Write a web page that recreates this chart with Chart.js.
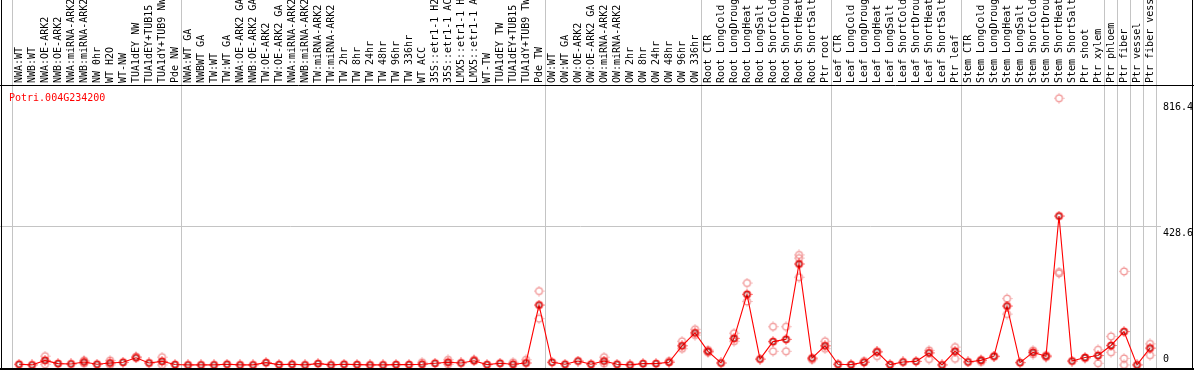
<!DOCTYPE html>
<html><head><meta charset="utf-8">
<script src="https://cdn.jsdelivr.net/npm/chart.js@4.4.1/dist/chart.umd.min.js"></script>
<style>html,body{margin:0;padding:0;background:#fff;overflow:hidden}canvas{display:block}</style>
</head><body>
<canvas id="c" width="1194" height="370" style="width:1194px;height:370px"></canvas>
<script>
const geneTitle = "Potri.004G234200";

const categories = [
  "NWA:WT","NWB:WT","NWA:OE-ARK2","NWB:OE-ARK2","NWA:miRNA-ARK2","NWB:miRNA-ARK2","NW 0hr","WT H2O","WT-NW","TUA1dEY NW","TUA1dEY+TUB15","TUA1dY+TUB9 NW","Pde NW",
  "NWA:WT GA","NWBWT GA","TW:WT","TW:WT GA","NWA:OE-ARK2 GA","NWB:OE-ARK2 GA","TW:OE-ARK2","TW:OE-ARK2 GA","NWA:miRNA-ARK2","NWB:miRNA-ARK2","TW:miRNA-ARK2","TW:miRNA-ARK2",
  "TW 2hr","TW 8hr","TW 24hr","TW 48hr","TW 96hr","TW 336hr","WT ACC","35S::etr1-1 H2O","35S::etr1-1 ACC","LMX5::etr1-1 H2O","LMX5::etr1-1 ACC","WT-TW","TUA1dEY TW","TUA1dEY+TUB15","TUA1dY+TUB9 TW","Pde TW",
  "OW:WT","OW:WT GA","OW:OE-ARK2","OW:OE-ARK2 GA","OW:miRNA-ARK2","OW:miRNA-ARK2","OW 2hr","OW 8hr","OW 24hr","OW 48hr","OW 96hr","OW 336hr",
  "Root CTR","Root LongCold","Root LongDrought","Root LongHeat","Root LongSalt","Root ShortCold","Root ShortDrought","Root ShortHeat","Root ShortSalt","Ptr root",
  "Leaf CTR","Leaf LongCold","Leaf LongDrought","Leaf LongHeat","Leaf LongSalt","Leaf ShortCold","Leaf ShortDrought","Leaf ShortHeat","Leaf ShortSalt","Ptr leaf",
  "Stem CTR","Stem LongCold","Stem LongDrought","Stem LongHeat","Stem LongSalt","Stem ShortCold","Stem ShortDrought","Stem ShortHeat","Stem ShortSalt","Ptr shoot","Ptr xylem",
  "Ptr phloem","Ptr fiber","Ptr vessel","Ptr fiber vessel"
];

// group boundaries (index of first category of each group, plus end)
const groupBoundaries = [0, 13, 41, 53, 63, 73, 84, 85, 86, 87, 88];

const meanValues = [
  2,0,14,4,3,9,2,6,8,22,6,11,1,
  0,0,0,2,0,0,7,1,2,0,4,0,
  2,1,0,0,1,1,2,5,8,6,13,1,5,2,6,185,
  8,2,12,2,12,2,0,4,4,8,59,99,
  42,6,82,218,18,72,79,312,21,59,
  2,1,8,40,1,9,11,37,0,42,
  9,14,27,182,7,39,27,460,12,23,29,
  60,103,0,52
];

const replicateA = [
  null,null,27,null,null,14,null,14,null,26,null,24,null,
  null,null,null,null,null,null,null,null,null,null,null,null,
  null,null,null,null,null,null,8,null,16,null,16,null,null,8,16,228,
  null,null,null,null,24,null,null,null,null,12,73,110,
  46,null,98,253,null,118,118,340,16,73,
  null,null,12,42,null,null,null,45,null,55,
  null,16,25,205,null,45,30,824,null,20,47,
  88,289,null,65
];

const replicateB = [
  null,null,2,null,null,4,null,0,null,null,null,0,null,
  null,null,null,null,null,null,null,null,null,null,null,null,
  null,null,null,null,null,null,null,null,2,null,null,null,null,null,null,143,
  null,null,null,null,4,null,null,null,null,null,50,92,
  38,null,73,196,null,42,42,271,null,50,
  null,null,null,27,null,null,null,18,null,19,
  null,9,null,157,null,33,24,287,null,null,5,
  39,20,null,30
];

const replicateC = [
  null,null,null,null,null,null,null,null,null,null,null,null,null,
  null,null,null,null,null,null,null,null,null,null,null,null,
  null,null,null,null,null,null,null,null,null,null,null,null,null,null,null,null,
  null,null,null,null,null,null,null,null,null,null,null,null,
  null,null,null,null,null,null,null,330,null,null,
  null,null,null,null,null,null,null,null,null,null,
  null,null,null,null,null,null,null,283,null,null,null,
  null,0,null,null
];

const yTickValues = [0, 428.6, 816.4];
const yGridValues = [428.6];
const yMax = 865;

// marker images
function ringMarker(outer, inner) {
  const cv = document.createElement('canvas');
  cv.width = 11; cv.height = 11;
  const g = cv.getContext('2d');
  g.lineWidth = 1.2;
  g.strokeStyle = outer;
  g.beginPath(); g.arc(5.5, 5.5, 3.4, 0, Math.PI * 2); g.stroke();
  if (inner) {
    g.lineWidth = 0.8;
    g.strokeStyle = inner;
    g.beginPath(); g.arc(5.5, 5.5, 2.5, 0, Math.PI * 2); g.stroke();
  }
  // small ticks
  g.fillStyle = outer;
  g.fillRect(5, 0.5, 1, 1); g.fillRect(5, 9.5, 1, 1);
  g.fillRect(0.5, 5, 1, 1); g.fillRect(9.5, 5, 1, 1);
  return cv;
}
const meanMarker = ringMarker('#ff0000', '#7a0000');
const repMarker = ringMarker('#f09090', null);

const FONT = '10px "DejaVu Sans Mono", "Liberation Mono", monospace';

const decorPlugin = {
  id: 'decor',
  beforeDatasetsDraw(chart) {
    const ctx = chart.ctx;
    const xs = chart.scales.x, ys = chart.scales.y;
    const step = xs.getPixelForValue(1) - xs.getPixelForValue(0);
    ctx.save();
    ctx.strokeStyle = '#c4c4c4';
    ctx.lineWidth = 1;
    groupBoundaries.forEach(b => {
      const px = Math.round(xs.getPixelForValue(b) - step / 2 - 1) + 0.5;
      ctx.beginPath(); ctx.moveTo(px, 0); ctx.lineTo(px, 370); ctx.stroke();
    });
    yGridValues.forEach(v => {
      const py = Math.round(ys.getPixelForValue(v)) + 0.5;
      ctx.beginPath(); ctx.moveTo(0, py); ctx.lineTo(1161, py); ctx.stroke();
    });
    ctx.restore();
  },
  afterDraw(chart) {
    const ctx = chart.ctx;
    const xs = chart.scales.x, ys = chart.scales.y;
    const area = chart.chartArea;
    ctx.save();
    // frame
    ctx.strokeStyle = '#000';
    ctx.lineWidth = 1;
    ctx.beginPath();
    ctx.moveTo(1.5, 0); ctx.lineTo(1.5, 370);
    ctx.moveTo(1192.5, 0); ctx.lineTo(1192.5, 370);
    ctx.moveTo(0, 85.5); ctx.lineTo(1194, 85.5);
    ctx.stroke();
    ctx.lineWidth = 2;
    ctx.beginPath(); ctx.moveTo(0, 369); ctx.lineTo(1194, 369); ctx.stroke();
    // header labels
    ctx.font = FONT;
    ctx.fillStyle = '#000';
    ctx.textAlign = 'left';
    ctx.textBaseline = 'alphabetic';
    categories.forEach((lab, i) => {
      const px = xs.getPixelForValue(i);
      ctx.save();
      ctx.translate(px + 3, 83);
      ctx.rotate(-Math.PI / 2);
      ctx.fillText(lab, 0, 0);
      ctx.restore();
    });
    // title
    ctx.fillStyle = '#ff0000';
    ctx.fillText(geneTitle, 9, 101);
    // y labels
    ctx.fillStyle = '#000';
    ctx.textBaseline = 'top';
    yTickValues.forEach(v => {
      let py = ys.getPixelForValue(v) + 2;
      py = Math.min(py, area.bottom - 10);
      ctx.fillText(String(v), 1163, py);
    });
    ctx.restore();
  }
};

new Chart(document.getElementById('c'), {
  type: 'line',
  data: {
    labels: categories,
    datasets: [
      { data: meanValues, borderColor: '#ff0000', borderWidth: 1.1, pointStyle: meanMarker,
        pointRadius: 4, fill: false, tension: 0 },
      { data: replicateA, showLine: false, pointStyle: repMarker, pointRadius: 4 },
      { data: replicateB, showLine: false, pointStyle: repMarker, pointRadius: 4 },
      { data: replicateC, showLine: false, pointStyle: repMarker, pointRadius: 4 }
    ]
  },
  options: {
    responsive: false,
    animation: false,
    devicePixelRatio: 1,
    clip: false,
    layout: { padding: { left: 12.5, right: 37.5, top: 85, bottom: 2 } },
    plugins: { legend: { display: false }, tooltip: { enabled: false }, title: { display: false } },
    scales: {
      x: { type: 'category', display: false, offset: true },
      y: { display: false, min: 0, max: yMax }
    }
  },
  plugins: [decorPlugin]
});
</script>
</body></html>
